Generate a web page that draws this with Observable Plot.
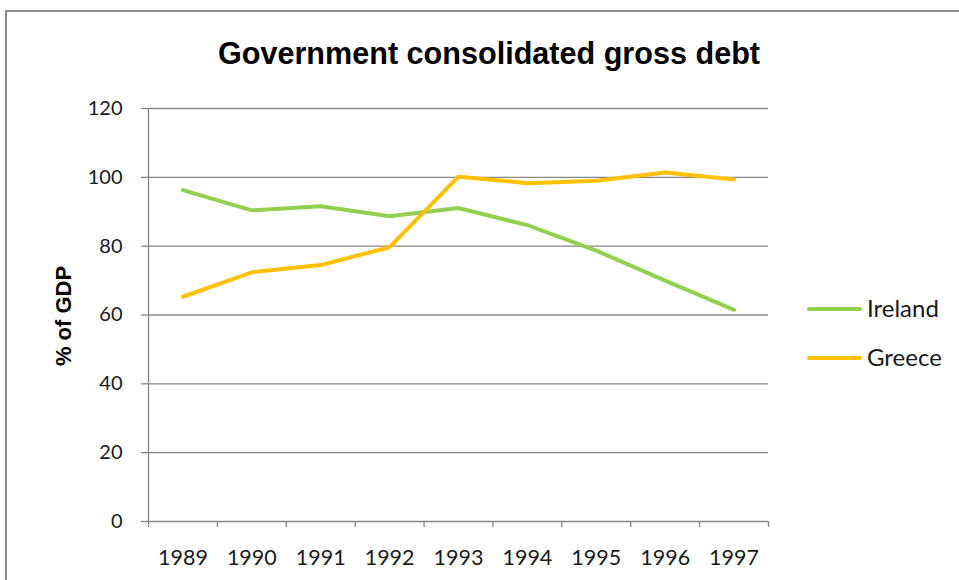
<!DOCTYPE html>
<html>
<head>
<meta charset="utf-8">
<script src="https://cdn.jsdelivr.net/npm/d3@7"></script>
<script src="https://cdn.jsdelivr.net/npm/@observablehq/plot@0.6"></script>
<style>
  html, body { margin: 0; padding: 0; background: #fff; }
  #wrap { position: relative; width: 959px; height: 580px; overflow: hidden; font-family: Lato, "Open Sans", sans-serif; }
  #border { position: absolute; left: 5px; top: 10px; width: 980px; height: 600px; border-left: 2px solid #8c8c8c; border-top: 2px solid #8c8c8c; box-sizing: border-box; }
  #titlesvg { position: absolute; left: 0; top: 0; }
  #ylab { position: absolute; left: 64px; top: 316px; transform: translate(-50%, -50%) rotate(-90deg); font-family: "Liberation Sans", Arial, sans-serif; font-weight: bold; font-size: 22px; white-space: nowrap; color: #000; }
  .leg { position: absolute; font-size: 24px; line-height: 24px; color: #1a1a1a; font-family: Lato, sans-serif; }
  .legline { position: absolute; height: 4px; border-radius: 2px; }
  #chart { position: absolute; left: 0; top: 0; }
</style>
</head>
<body>
<div id="wrap">
  <div id="chart"></div>
  <div id="border"></div>
  <svg id="titlesvg" width="959" height="90">
    <text x="218" y="64" textLength="542" lengthAdjust="spacingAndGlyphs" font-family="Liberation Sans, Arial, sans-serif" font-weight="bold" font-size="32" fill="#000">Government consolidated gross debt</text>
  </svg>
  <div id="ylab">% of GDP</div>
  <div id="legend"></div>
</div>
<script>
const years = ["1989","1990","1991","1992","1993","1994","1995","1996","1997"];
const ireland = [96.3, 90.4, 91.6, 88.7, 91.1, 86.1, 78.7, 70.0, 61.5];
const greece = [65.3, 72.4, 74.5, 79.7, 100.2, 98.3, 99.0, 101.4, 99.4];
const yTicks = [0, 20, 40, 60, 80, 100, 120];
const seriesNames = ["Ireland", "Greece"];
const seriesColors = ["#92D050", "#FFC000"];

const rows = [];
years.forEach((yr, i) => {
  rows.push({series: "Ireland", idx: i + 0.5, value: ireland[i]});
  rows.push({series: "Greece", idx: i + 0.5, value: greece[i]});
});
const boundaries = d3.range(0, years.length + 1);
const centers = years.map((_, i) => i + 0.5);

const plot = Plot.plot({
  width: 959,
  height: 580,
  marginTop: 108,
  marginBottom: 59,
  marginLeft: 148,
  marginRight: 191,
  style: { fontFamily: "Lato, sans-serif", fontSize: "20px", color: "#1a1a1a", background: "transparent" },
  x: { type: "linear", domain: [0, years.length] },
  y: { domain: [0, 120] },
  color: { domain: seriesNames, range: seriesColors },
  marks: [
    Plot.ruleY(yTicks, { stroke: "#868686", strokeWidth: 1.3 }),
    Plot.axisY({ ticks: yTicks, tickSize: 7, tickPadding: 19, stroke: "#868686", strokeWidth: 1.3, strokeOpacity: 1, label: null, fontSize: 20, fill: "#1a1a1a" }),
    Plot.axisX({ ticks: boundaries, tickSize: 6, tickFormat: () => "", stroke: "#868686", strokeWidth: 1.3, strokeOpacity: 1, label: null }),
    Plot.axisX({ ticks: centers, tickSize: 0, tickPadding: 28, tickFormat: d => years[Math.round(d - 0.5)], label: null, fontSize: 21.5, fill: "#1a1a1a" }),
    Plot.ruleX([0], { stroke: "#868686", strokeWidth: 1.3 }),
    Plot.line(rows, { x: "idx", y: "value", z: "series", stroke: "series", strokeWidth: 4, strokeLinejoin: "round", strokeLinecap: "round" })
  ]
});
document.getElementById("chart").appendChild(plot);

const legend = document.getElementById("legend");
const legY = [309, 358];
seriesNames.forEach((name, i) => {
  const l = document.createElement("div");
  l.className = "legline";
  l.style.left = "807px"; l.style.width = "55px";
  l.style.top = (legY[i] - 2) + "px";
  l.style.background = seriesColors[i];
  legend.appendChild(l);
  const t = document.createElement("div");
  t.className = "leg";
  t.style.left = "867px";
  t.style.top = (legY[i] - 13) + "px";
  t.textContent = name;
  legend.appendChild(t);
});
</script>
</body>
</html>
